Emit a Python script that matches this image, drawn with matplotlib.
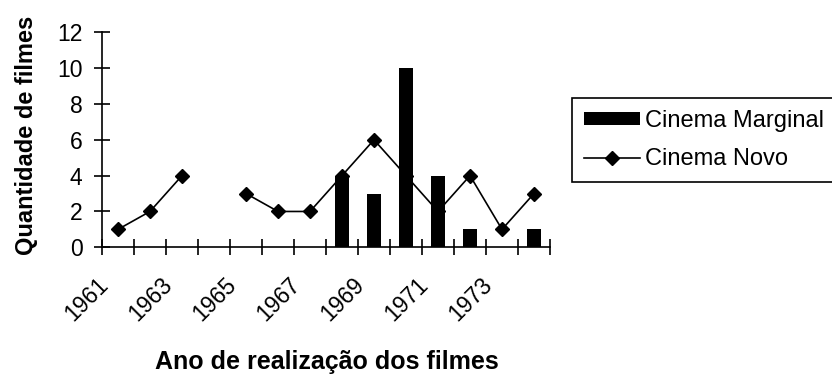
import matplotlib
matplotlib.use('Agg')
import matplotlib.pyplot as plt
import numpy as np
from matplotlib.transforms import ScaledTranslation

plt.rcParams['font.family'] = ['Liberation Sans', 'DejaVu Sans']

years = [1961, 1962, 1963, 1964, 1965, 1966, 1967, 1968, 1969, 1970, 1971, 1972, 1973, 1974]
cinema_marginal = [0, 0, 0, 0, 0, 0, 0, 4, 3, 10, 4, 1, 0, 1]
cinema_novo = [1, 2, 4, np.nan, 3, 2, 2, 4, 6, 4, 2, 4, 1, 3]
tick_years = [1961, 1963, 1965, 1967, 1969, 1971, 1973]
y_ticks = [0, 2, 4, 6, 8, 10, 12]

W, H = 832, 374
fig = plt.figure(figsize=(W / 100, H / 100), dpi=100)
ax = fig.add_axes([102 / W, 1 - 247.3 / H, (550 - 102) / W, (247.3 - 32.3) / H])

x = np.arange(len(years))
line, = ax.plot(x, cinema_novo, color='black', lw=1.2, marker='D', markersize=7.5,
                zorder=1.5, label='Cinema Novo')
bars = ax.bar(x, cinema_marginal, width=0.42, color='black', label='Cinema Marginal')
for p in bars.patches:
    p.set_zorder(4)

ax.set_xlim(-0.5, len(years) - 0.5)
ax.set_ylim(0, 12)
for s in ['top', 'right']:
    ax.spines[s].set_visible(False)
for s in ['left', 'bottom']:
    ax.spines[s].set_linewidth(1.2)
    ax.spines[s].set_zorder(5)

ax.set_yticks(y_ticks)
ax.set_yticklabels([str(v) for v in y_ticks], fontsize=16.5)
ax.tick_params(axis='y', direction='inout', length=12, width=1.2, pad=8)

idx = [years.index(y) for y in tick_years]
ax.set_xticks(idx)
ax.set_xticklabels([str(y) for y in tick_years], fontsize=16.5)
ax.set_xticks(np.arange(-0.5, len(years)), minor=True)
ax.tick_params(axis='x', which='major', length=0, pad=27)
ax.tick_params(axis='x', which='minor', direction='inout', length=12, width=1.2)
off = ScaledTranslation(-0.13, 0.03, fig.dpi_scale_trans)
for lab in ax.get_xticklabels():
    lab.set_rotation(45)
    lab.set_rotation_mode('anchor')
    lab.set_ha('right')
    lab.set_va('center')
    lab.set_transform(lab.get_transform() + off)

fig.text(327 / W, 1 - 369 / H, 'Ano de realização dos filmes', fontsize=18,
         fontweight='bold', ha='center', va='baseline')
fig.text(33 / W, 1 - 135.5 / H, 'Quantidade de filmes', fontsize=17, fontweight='bold',
         rotation=90, rotation_mode='anchor', ha='center', va='baseline')

leg = fig.legend(handles=[bars, line], labels=['Cinema Marginal', 'Cinema Novo'],
                 loc='upper left', bbox_to_anchor=(572 / W, 1 - 98 / H),
                 fontsize=17, frameon=True, fancybox=False, framealpha=1,
                 edgecolor='black', borderpad=0.5, borderaxespad=0,
                 handlelength=2.4, handleheight=0.47, handletextpad=0.2,
                 labelspacing=0.7, numpoints=1)
leg.get_frame().set_linewidth(1.2)

fig.savefig('out.png', dpi=100)
